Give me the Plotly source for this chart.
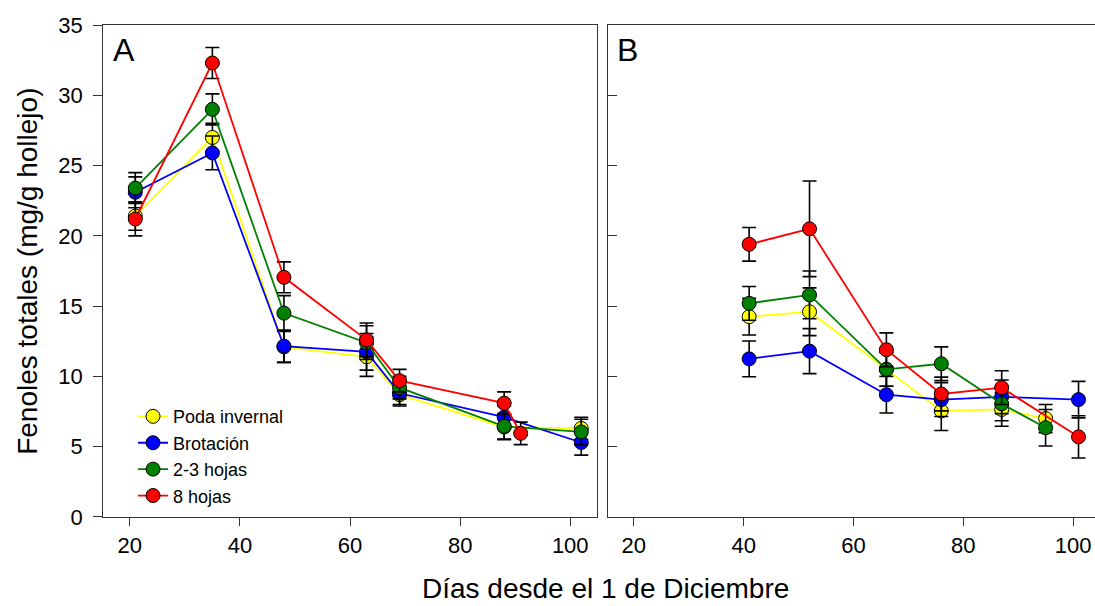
import plotly.graph_objects as go

# ---------------- data ----------------
series_names = ["Poda invernal", "Brotación", "2-3 hojas", "8 hojas"]
series_colors = ["#FFFF00", "#0000FF", "#008000", "#FF0000"]

# Panel A
a_yellow_x = [21, 35, 48, 63, 69, 88, 102]
a_yellow_y = [21.4, 27.0, 12.1, 11.4, 8.7, 6.4, 6.3]
a_yellow_e = [1.0, 1.0, 1.1, 1.4, 0.8, 0.9, 0.8]

a_blue_x = [21, 35, 48, 63, 69, 88, 102]
a_blue_y = [23.1, 25.9, 12.15, 11.75, 8.8, 7.1, 5.3]
a_blue_e = [1.1, 1.2, 1.15, 1.3, 0.8, 0.8, 0.9]

a_green_x = [21, 35, 48, 63, 69, 88, 102]
a_green_y = [23.4, 29.0, 14.5, 12.4, 9.2, 6.45, 6.05]
a_green_e = [1.1, 1.1, 1.25, 1.2, 0.8, 0.9, 0.9]

a_red_x = [21, 35, 48, 63, 69, 88, 91]
a_red_y = [21.2, 32.3, 17.05, 12.6, 9.7, 8.1, 5.95]
a_red_e = [1.2, 1.1, 1.1, 1.2, 0.8, 0.8, 0.8]

# Panel B
b_yellow_x = [41, 52, 66, 76, 87, 95]
b_yellow_y = [14.25, 14.6, 10.5, 7.55, 7.65, 7.0]
b_yellow_e = [1.3, 1.7, 1.2, 1.4, 1.2, 1.0]

b_blue_x = [41, 52, 66, 76, 87, 101]
b_blue_y = [11.25, 11.8, 8.7, 8.35, 8.55, 8.35]
b_blue_e = [1.27, 1.6, 1.3, 1.2, 1.2, 1.3]

b_green_x = [41, 52, 66, 76, 87, 95]
b_green_y = [15.2, 15.8, 10.5, 10.9, 8.05, 6.35]
b_green_e = [1.2, 1.7, 1.2, 1.2, 1.2, 1.3]

b_red_x = [41, 52, 66, 76, 87, 101]
b_red_y = [19.4, 20.5, 11.9, 8.75, 9.2, 5.7]
b_red_e = [1.2, 3.4, 1.2, 1.2, 1.2, 1.5]

x_ticks = [20, 40, 60, 80, 100]
y_ticks = [0, 5, 10, 15, 20, 25, 30, 35]

# ---------------- figure ----------------
FONT = "Liberation Sans, Arial, sans-serif"
fig = go.Figure()

panel_a = [(a_yellow_x, a_yellow_y, a_yellow_e), (a_blue_x, a_blue_y, a_blue_e),
           (a_green_x, a_green_y, a_green_e), (a_red_x, a_red_y, a_red_e)]
panel_b = [(b_yellow_x, b_yellow_y, b_yellow_e), (b_blue_x, b_blue_y, b_blue_e),
           (b_green_x, b_green_y, b_green_e), (b_red_x, b_red_y, b_red_e)]

for panel, (xa, ya, show) in ((panel_a, ("x", "y", True)), (panel_b, ("x2", "y2", False))):
    for (xs, ys, es), name, col in zip(panel, series_names, series_colors):
        fig.add_trace(go.Scatter(
            x=xs, y=ys, mode="lines+markers", name=name, showlegend=show,
            xaxis=xa, yaxis=ya,
            line=dict(color=col, width=1.8),
            marker=dict(color=col, size=14, line=dict(color="black", width=1)),
            error_y=dict(type="data", array=es, visible=True, color="black",
                         thickness=1.6, width=7),
        ))

axis_common = dict(showgrid=False, zeroline=False, linecolor="#333333", linewidth=1.3,
                   tickcolor="#333333", tickwidth=1.3,
                   tickfont=dict(family=FONT, size=22, color="black"))

fig.update_layout(
    width=1095, height=606,
    margin=dict(l=0, r=0, t=0, b=0, autoexpand=False),
    paper_bgcolor="white", plot_bgcolor="white",
    font=dict(family=FONT, color="black"),
    xaxis=dict(domain=[0.0944, 0.5449], range=[15.2, 104.8], tickvals=x_ticks,
               ticks="outside", ticklen=8, showline=True, mirror=True,
               anchor="y", **axis_common),
    yaxis=dict(domain=[0.1469, 0.9587], range=[0, 35], tickvals=y_ticks,
               ticks="outside", ticklen=9, showline=True, mirror=True,
               ticklabelstandoff=6, anchor="x", **axis_common),
    xaxis2=dict(domain=[0.5548, 1.0], range=[15.2, 104.0], tickvals=x_ticks,
                ticks="outside", ticklen=8, showline=True, mirror=True,
                anchor="y2", **axis_common),
    yaxis2=dict(domain=[0.1469, 0.9587], range=[0, 35], tickvals=y_ticks,
                ticks="inside", ticklen=9, showline=True, mirror=False,
                showticklabels=False, anchor="x2", **axis_common),
    legend=dict(x=0.1215, y=0.343, xanchor="left", yanchor="top",
                bgcolor="rgba(0,0,0,0)", font=dict(family=FONT, size=18, color="black"),
                tracegroupgap=0),
    annotations=[
        dict(text="A", xref="x domain", yref="y domain", x=0.015, y=0.99,
             xanchor="left", yanchor="top", showarrow=False,
             font=dict(family=FONT, size=32, color="black")),
        dict(text="B", xref="x2 domain", yref="y2 domain", x=0.015, y=0.99,
             xanchor="left", yanchor="top", showarrow=False,
             font=dict(family=FONT, size=32, color="black")),
        dict(text="Días desde el 1 de Diciembre", xref="paper", yref="paper",
             x=0.553, y=0.0, xanchor="center", yanchor="bottom", showarrow=False,
             font=dict(family=FONT, size=28, color="black")),
        dict(text="Fenoles totales (mg/g hollejo)", xref="paper", yref="paper",
             x=0.009, y=0.552, xanchor="left", yanchor="middle", showarrow=False,
             textangle=-90, font=dict(family=FONT, size=28, color="black")),
    ],
)

fig.write_html("out.html", config={"displayModeBar": False},
               post_script="document.body.style.margin='0px';")
